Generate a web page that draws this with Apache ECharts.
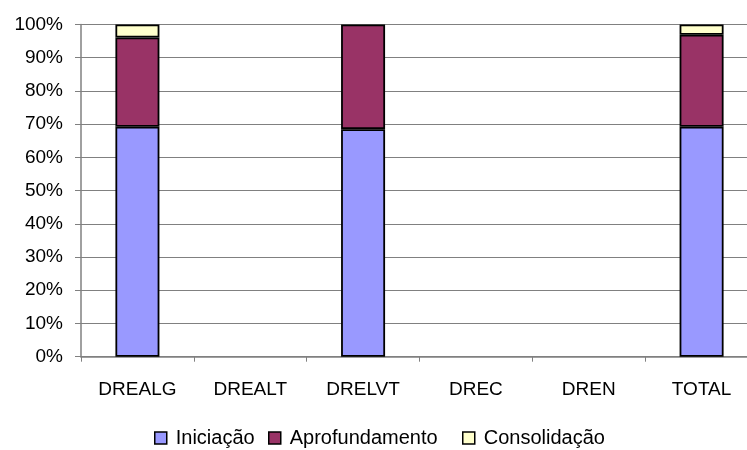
<!DOCTYPE html>
<html><head><meta charset="utf-8">
<script src="https://cdn.jsdelivr.net/npm/echarts@6/dist/echarts.min.js"></script>
<style>html,body{margin:0;padding:0;background:#fff;overflow:hidden;width:747px;height:450px}#c{width:770px;height:450px}</style>
</head><body><div id="c"></div>
<script>
var categories = ['DREALG', 'DREALT', 'DRELVT', 'DREC', 'DREN', 'TOTAL'];
var iniciacao = [69.2, null, 68.5, null, null, 69.2];
var aprofundamento = [26.9, null, 31.5, null, null, 27.7];
var consolidacao = [3.9, null, null, null, null, 3.1];
var yTicks = ['0%','10%','20%','30%','40%','50%','60%','70%','80%','90%','100%'];
var seriesNames = ['Iniciação', 'Aprofundamento', 'Consolidação'];

var font = 'Liberation Sans, Arial, sans-serif';
var chart = echarts.init(document.getElementById('c'));
function ser(name, data, color) {
  return { name: name, type: 'bar', stack: 's', data: data, barWidth: '39%',
    itemStyle: { color: color, borderColor: '#000', borderWidth: 1.8 } };
}
var legendLefts = [154, 268, 462];
var legends = seriesNames.map(function (n, i) {
  return {
    top: 428, left: legendLefts[i], padding: 0, itemWidth: 12, itemHeight: 12,
    icon: 'rect',
    textStyle: { fontSize: 20, color: '#000', fontFamily: font, padding: [0, 0, 0, 4] },
    itemStyle: { borderColor: '#000', borderWidth: 1.5 },
    data: [n]
  };
});
chart.setOption({
  animation: false,
  textStyle: { fontFamily: font },
  grid: { left: 81, width: 677, top: 24.5, height: 332.2, containLabel: false },
  legend: legends,
  xAxis: {
    type: 'category', data: categories,
    axisLine: { lineStyle: { color: '#808080', width: 1.5 } },
    axisTick: { show: true, length: 5, lineStyle: { color: '#808080' } },
    axisLabel: { fontSize: 19, color: '#000', margin: 24, fontFamily: font }
  },
  yAxis: {
    type: 'value', min: 0, max: 100, interval: 10,
    axisLine: { show: true, lineStyle: { color: '#808080', width: 1.5 } },
    axisTick: { show: true, length: 6, lineStyle: { color: '#808080' } },
    splitLine: { lineStyle: { color: '#808080', width: 1.2 } },
    axisLabel: { fontSize: 19, color: '#000', margin: 18, fontFamily: font,
      formatter: function (v) { return yTicks[Math.round(v / 10)]; } }
  },
  series: [
    ser(seriesNames[0], iniciacao, '#9999FF'),
    ser(seriesNames[1], aprofundamento, '#993366'),
    ser(seriesNames[2], consolidacao, '#FFFFCC')
  ]
});
</script></body></html>
